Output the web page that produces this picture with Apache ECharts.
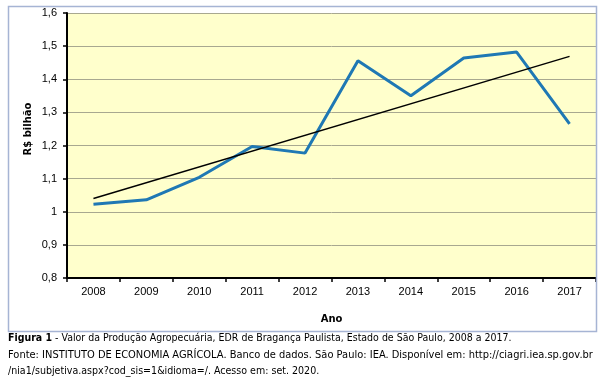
<!DOCTYPE html>
<html><head><meta charset="utf-8">
<script src="https://cdn.jsdelivr.net/npm/echarts@6/dist/echarts.min.js"></script>
<style>html,body{margin:0;padding:0;background:#fff}#c{width:605px;height:386px}</style>
</head><body><div id="c"></div>
<script>
const categories = ['2008','2009','2010','2011','2012','2013','2014','2015','2016','2017'];
const valores = [1.023, 1.036, 1.104, 1.197, 1.177, 1.456, 1.350, 1.464, 1.482, 1.265];
const tendencia = [1.040, null, null, null, null, null, null, null, null, 1.469];
const yTicks = {min: 0.8, max: 1.6, interval: 0.1};
const yName = 'R$ bilhão';
const xName = 'Ano';
const captionBold = 'Figura 1';
const caption1 = ' - Valor da Produção Agropecuária, EDR de Bragança Paulista, Estado de São Paulo, 2008 a 2017.';
const caption2 = 'Fonte: INSTITUTO DE ECONOMIA AGRÍCOLA. Banco de dados. São Paulo: IEA. Disponível em: http://ciagri.iea.sp.gov.br';
const caption3 = '/nia1/subjetiva.aspx?cod_sis=1&idioma=/. Acesso em: set. 2020.';

const FONT = 'DejaVu Sans';
const chart = echarts.init(document.getElementById('c'), null, {renderer: 'canvas'});
chart.setOption({
  animation: false,
  backgroundColor: '#fff',
  grid: {left: 67, top: 13, right: 9, bottom: 108, show: true, backgroundColor: '#ffffcc', borderWidth: 0},
  xAxis: {
    type: 'category', data: categories, boundaryGap: true,
    name: xName, nameLocation: 'middle', nameGap: 36,
    nameTextStyle: {fontFamily: FONT, fontSize: 10, fontWeight: 'bold', color: '#000'},
    axisLine: {lineStyle: {color: '#000', width: 2}},
    axisTick: {show: true, inside: false, length: 4, lineStyle: {color: '#000', width: 1.5}},
    axisLabel: {fontFamily: 'Liberation Sans', fontSize: 11, color: '#000', margin: 8}
  },
  yAxis: {
    type: 'value', min: yTicks.min, max: yTicks.max, interval: yTicks.interval,
    axisLine: {show: true, lineStyle: {color: '#000', width: 2}},
    axisTick: {show: true, length: 4, lineStyle: {color: '#000', width: 1.5}},
    axisLabel: {fontFamily: 'Liberation Sans', fontSize: 11, color: '#000', margin: 10,
      formatter: v => { const r = Math.round(v*10)/10; return (r % 1 === 0 ? r.toFixed(0) : r.toFixed(1)).replace('.', ','); }},
    splitLine: {show: true, lineStyle: {color: '#a8a890', width: 1}}
  },
  series: [
    {type: 'line', data: valores, symbol: 'none', lineStyle: {color: '#1f78b4', width: 3}, z: 3},
    {type: 'line', data: tendencia, connectNulls: true, symbol: 'none', lineStyle: {color: '#000', width: 1.5}, z: 4}
  ],
  graphic: [
    {type: 'rect', shape: {x: 8.5, y: 6.5, width: 588, height: 325}, style: {fill: 'none', stroke: '#a6b4d4', lineWidth: 1.5}, z: 100},
    {type: 'text', x: 28, y: 129, rotation: Math.PI/2, style: {text: yName, font: 'bold 10px "DejaVu Sans"', fill: '#000', textAlign: 'center', textVerticalAlign: 'middle'}},
    {type: 'text', x: 8, y: 338, scaleX: 0.858, style: {rich: {b: {fontFamily: FONT, fontSize: 11, fontWeight: 'bold', fill: '#000'}, n: {fontFamily: FONT, fontSize: 11, fill: '#000'}}, text: '{b|' + captionBold + '}{n|' + caption1 + '}', textVerticalAlign: 'middle'}},
    {type: 'text', x: 8, y: 355, scaleX: 0.899, style: {text: caption2, font: '11px "DejaVu Sans"', fill: '#000', textVerticalAlign: 'middle'}},
    {type: 'text', x: 8, y: 371, scaleX: 0.864, style: {text: caption3, font: '11px "DejaVu Sans"', fill: '#000', textVerticalAlign: 'middle'}}
  ]
});
</script></body></html>
